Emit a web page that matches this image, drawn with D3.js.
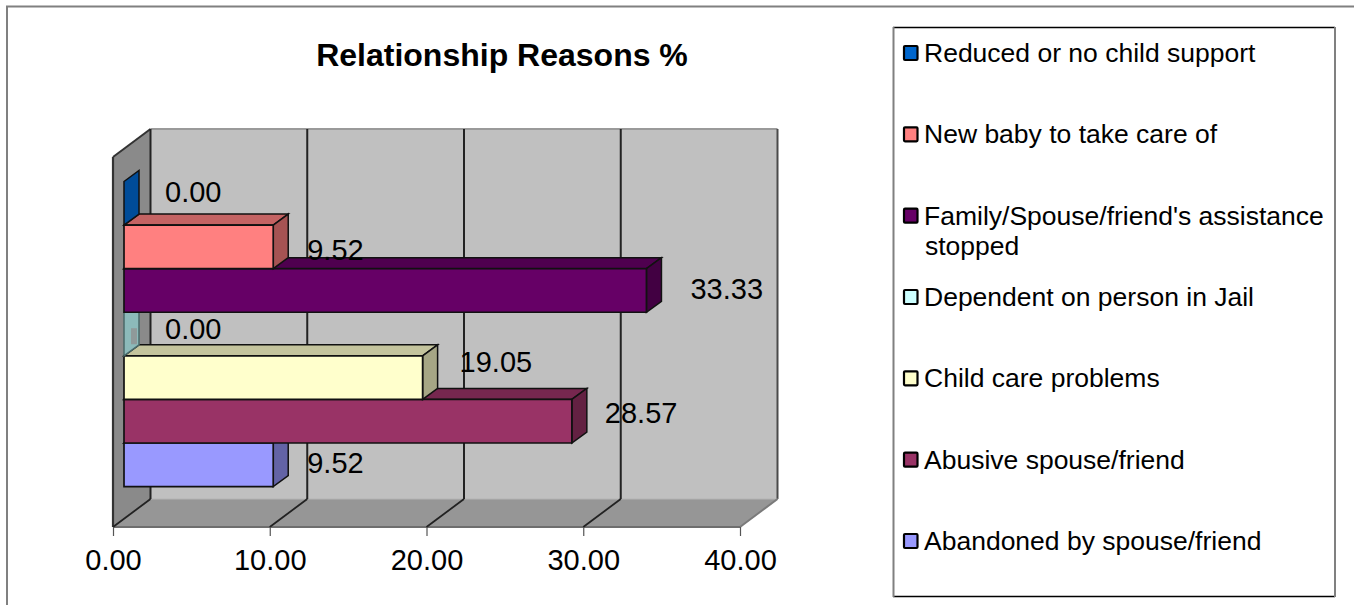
<!DOCTYPE html>
<html><head><meta charset="utf-8">
<style>html,body{margin:0;padding:0;background:#fff}svg{display:block}text{font-family:"Liberation Sans",Arial,sans-serif;fill:#000}</style>
<script src="https://cdn.jsdelivr.net/npm/d3@7"></script></head><body>
<script>
const title = "Relationship Reasons %";
const categories = ["Reduced or no child support","New baby to take care of","Family/Spouse/friend's assistance stopped","Dependent on person in Jail","Child care problems","Abusive spouse/friend","Abandoned by spouse/friend"];
const values = [0.00,9.52,33.33,0.00,19.05,28.57,9.52];
const colors = ["#0066CC","#FF8080","#660066","#CCFFFF","#FFFFCC","#993366","#9999FF"];
const ticks = [0,10,20,30,40];

const W=1354,H=605;
const svg=d3.select("body").append("svg").attr("width",W).attr("height",H);
// frame
svg.append("path").attr("d",`M${W},6.5H7V${H}`).attr("fill","none").attr("stroke","#808080").attr("stroke-width",2);

const x=d3.scaleLinear().domain([0,40]).range([113,740]);
const floorY=527, topY=157, wallDx=37.5, wallDy=-28;
const barDx=15, barDy=-11, barInset=11;
const y=d3.scaleBand().domain(categories).range([181.5,486.6]);
const gx=svg.append("g");

const poly=(pts,fill,stroke,sw)=>gx.append("polygon").attr("points",pts.map(p=>p.join(",")).join(" ")).attr("fill",fill).attr("stroke",stroke||"none").attr("stroke-width",sw||0);
const x0=x(0),x1=x(40);
// back wall
poly([[x0+wallDx,topY+wallDy],[x1+wallDx,topY+wallDy],[x1+wallDx,floorY+wallDy],[x0+wallDx,floorY+wallDy]],"#C0C0C0");
// left wall
poly([[x0,topY],[x0+wallDx,topY+wallDy],[x0+wallDx,floorY+wallDy],[x0,floorY]],"#8A8A8A");
// floor
poly([[x0,floorY],[x0+wallDx,floorY+wallDy],[x1+wallDx,floorY+wallDy],[x1,floorY]],"#969696");
const line=(a,b,c,w)=>gx.append("line").attr("x1",a[0]).attr("y1",a[1]).attr("x2",b[0]).attr("y2",b[1]).attr("stroke",c).attr("stroke-width",w);
// wall outlines
line([x0+wallDx,topY+wallDy],[x1+wallDx,topY+wallDy],"#9a9a9a",2);
line([x1+wallDx,topY+wallDy],[x1+wallDx,floorY+wallDy],"#4a4a4a",2);
line([x0+wallDx,floorY+wallDy],[x1+wallDx,floorY+wallDy],"#b4b4b4",1);
line([x1+wallDx,floorY+wallDy],[x1,floorY],"#7a7a7a",2);
line([x0,floorY],[x1,floorY],"#6e6e6e",2);
line([x0,topY],[x0+wallDx,topY+wallDy],"#333",2);
line([x0,topY],[x0,floorY],"#333",2.2);
// gridlines
ticks.slice(0,-1).forEach(t=>{
  const p=x(t);
  line([p+wallDx,topY+wallDy],[p+wallDx,floorY+wallDy],"#222",2);
  line([p,floorY],[p+wallDx,floorY+wallDy],"#222",1.8);
});

// axis
const axis=d3.axisBottom(x).tickValues(ticks).tickFormat(d3.format(".2f")).tickSize(9).tickPadding(13);
const ag=svg.append("g").attr("transform",`translate(0,${floorY})`).call(axis);
ag.select(".domain").remove();
ag.selectAll("line").attr("stroke","#555").attr("stroke-width",1.2);
ag.selectAll("text").attr("font-size",29).style("font-family",'"Liberation Sans",Arial,sans-serif').attr("fill","#000");

// bars, bottom to top so each front hides the top face of the bar beneath
const shade=(c,k)=>{const r=d3.rgb(c);return d3.rgb(r.r*k,r.g*k,r.b*k).formatHex();};
const bx=v=>x(v)+barInset;
const order=categories.map((c,i)=>i).reverse();
order.forEach(i=>{
  const c=categories[i],v=values[i],col=colors[i];
  const t=y(c),b=t+y.bandwidth(),l=bx(0),r=bx(v);
  const st=(i===3)?"#4a6a6a":"#111";
  if(v===0){
    const f=(i===3)?"#8CBABA":"#004C99";
    poly([[l,t],[l+barDx,t+barDy],[l+barDx,b+barDy],[l,b]],f,st,1.5);
    if(i===3) gx.append("rect").attr("x",l+7).attr("y",t+16).attr("width",6).attr("height",16).attr("fill","#8F9A9A");
    return;
  }
  poly([[l,t],[l+barDx,t+barDy],[r+barDx,t+barDy],[r,t]],shade(col,.77),"#111",1.5);
  poly([[r,t],[r+barDx,t+barDy],[r+barDx,b+barDy],[r,b]],shade(col,.65),"#111",1.5);
  poly([[l,t],[r,t],[r,b],[l,b]],col,"#111",1.7);
});

// data labels
const labelDx=[41,34,44,41,37,33,34], labelDy=[-1,13,9,5,-6,2,8];
svg.append("g").selectAll("text").data(values).join("text")
  .attr("x",(d,i)=>bx(d)+labelDx[i])
  .attr("y",(d,i)=>y(categories[i])+y.bandwidth()/2+labelDy[i])
  .attr("font-size",29).text(d=>d.toFixed(2));

// title
svg.append("text").attr("x",502).attr("y",66).attr("text-anchor","middle").attr("font-size",32).attr("font-weight","bold").text(title);

// legend
const lg=svg.append("g");
lg.append("path").attr("d","M893,596.5H1335").attr("stroke","#000").attr("stroke-width",1.5);
lg.append("path").attr("d","M893,27.5H1335").attr("stroke","#000").attr("stroke-width",1.5);
lg.append("path").attr("d","M893.5,27V597M1335,27V597").attr("stroke","#808080").attr("stroke-width",2);
const ly=d3.scalePoint().domain(categories).range([53,541]);
categories.forEach((c,i)=>{
  const cy=ly(c);
  lg.append("rect").attr("x",904).attr("y",cy-7).attr("width",13.5).attr("height",14).attr("rx",1).attr("fill",colors[i]).attr("stroke","#000").attr("stroke-width",2.2);
  const parts=c==="Family/Spouse/friend's assistance stopped"?["Family/Spouse/friend's assistance","stopped"]:[c];
  parts.forEach((p,k)=>lg.append("text").attr("x",k?925:924).attr("y",cy+9+k*30).attr("font-size",26.5).text(p));
});
</script></body></html>
